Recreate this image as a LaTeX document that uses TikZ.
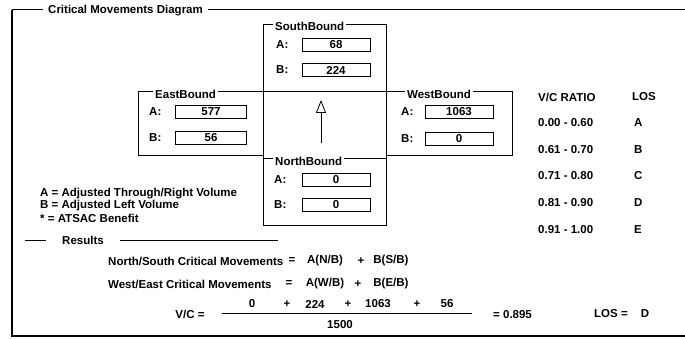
\documentclass[tikz,border=0pt]{standalone}
\usepackage{fontspec}
\setmainfont{Liberation Sans}
\usetikzlibrary{arrows.meta}
\begin{document}
\begin{tikzpicture}[x=1pt,y=-1pt,
  every node/.style={inner sep=0pt, font=\fontsize{11.5}{13}\selectfont\bfseries},
  grpbox/.style={draw, line width=1pt, inner sep=0pt, anchor=north west},
  grplabel/.style={fill=white, inner xsep=2pt, inner ysep=1pt, anchor=west},
  rowlab/.style={anchor=west},
  field/.style={draw, line width=0.6pt, minimum width=68pt, minimum height=13pt},
  tab/.style={anchor=west},
  frm/.style={anchor=west},
  rule/.style={line width=0.8pt},
]
\useasboundingbox (0,0) rectangle (685,339);
% outer frame
\draw[line width=1.6pt] (12,10) -- (12,336) -- (685,336);
\draw[line width=1pt] (12,10) -- (685,10);
\node[fill=white, inner xsep=5pt, inner ysep=2pt, anchor=west] (title) at (43,11) {Critical Movements Diagram};

% group boxes
\node[grpbox, minimum width=123pt, minimum height=67pt] (sb) at (263,24) {};
\node[grpbox, minimum width=123pt, minimum height=67pt] (cen) at (263,91) {};
\node[grpbox, minimum width=125pt, minimum height=64pt] (eb) at (138,91) {};
\node[grpbox, minimum width=126pt, minimum height=64pt] (wb) at (386,91) {};
\node[grpbox, minimum width=123pt, minimum height=67pt] (nb) at (263,158) {};

\node[grplabel] (sblab) at (273,26) {SouthBound};
\node[grplabel] (eblab) at (153,94) {EastBound};
\node[grplabel] (wblab) at (405,94) {WestBound};
\node[grplabel] (nblab) at (273,161) {NorthBound};

% fields
\node[field] (sbA) at (336,45) {68};
\node[field] (sbB) at (336,70) {224};
\node[field, minimum width=71pt] (ebA) at (211,112) {577};
\node[field, minimum width=71pt] (ebB) at (211,138) {56};
\node[field] (wbA) at (459,112) {1063};
\node[field] (wbB) at (459,139) {0};
\node[field] (nbA) at (336,180) {0};
\node[field] (nbB) at (336,205) {0};

% row labels
\node[rowlab] (sbAl) at (276,45) {A:};
\node[rowlab] (sbBl) at (276,70) {B:};
\node[rowlab] (ebAl) at (149,112) {A:};
\node[rowlab] (ebBl) at (149,138) {B:};
\node[rowlab] (wbAl) at (401,112) {A:};
\node[rowlab] (wbBl) at (401,139) {B:};
\node[rowlab] (nbAl) at (274,180) {A:};
\node[rowlab] (nbBl) at (274,205) {B:};

% arrow
\coordinate (atail) at (321,143);
\coordinate (ahead) at (321,100);
\draw[line width=0.8pt, -{Triangle[open, length=13pt, width=10pt, line width=0.8pt]}] (atail) -- (ahead);

% V/C table
\node[tab] (vch) at (538,97) {V/C RATIO};
\node[tab] (losh) at (632,97) {LOS};
\node[tab] (r1) at (538,123) {0.00 - 0.60};
\node[tab] (r2) at (538,150) {0.61 - 0.70};
\node[tab] (r3) at (538,176) {0.71 - 0.80};
\node[tab] (r4) at (538,203) {0.81 - 0.90};
\node[tab] (r5) at (538,230) {0.91 - 1.00};
\node[tab] (l1) at (634,123) {A};
\node[tab] (l2) at (634,150) {B};
\node[tab] (l3) at (634,176) {C};
\node[tab] (l4) at (634,203) {D};
\node[tab] (l5) at (634,230) {E};

% legend
\node[anchor=west] (lega) at (40,194) {A = Adjusted Through/Right Volume};
\node[anchor=west] (legb) at (40,206) {B = Adjusted Left Volume};
\node[anchor=west] (legc) at (40,218) {* = ATSAC Benefit};

% results
\draw[rule] (25,240) -- (46,240);
\node[anchor=west] (res) at (62,240) {Results};
\draw[rule] (120,240) -- (278,240);

\node[frm] (ns) at (108,261) {North/South Critical Movements};
\node (nseq) at (292,261) {=};
\node (nsa) at (325,261) {A(N/B)};
\node (nsp) at (361,261) {+};
\node (nsb) at (391,261) {B(S/B)};

\node[frm] (we) at (108,284) {West/East Critical Movements};
\node (weeq) at (289,284) {=};
\node (wea) at (325,284) {A(W/B)};
\node (wep) at (358,284) {+};
\node (web) at (391,284) {B(E/B)};

% V/C formula
\node (vc) at (190,314) {V/C =};
\node (n1) at (252,304) {0};
\node (p1) at (287,304) {+};
\node (n2) at (315,304) {224};
\node (p2) at (348,304) {+};
\node (n3) at (378,304) {1063};
\node (p3) at (417,304) {+};
\node (n4) at (447,304) {56};
\draw[rule] (222,313) -- (472,313);
\node (den) at (340,325) {1500};
\node[frm] (res1) at (493,315) {= 0.895};
\node[frm] (los) at (594,314) {LOS =};
\node (losv) at (645,314) {D};
\end{tikzpicture}
\end{document}
